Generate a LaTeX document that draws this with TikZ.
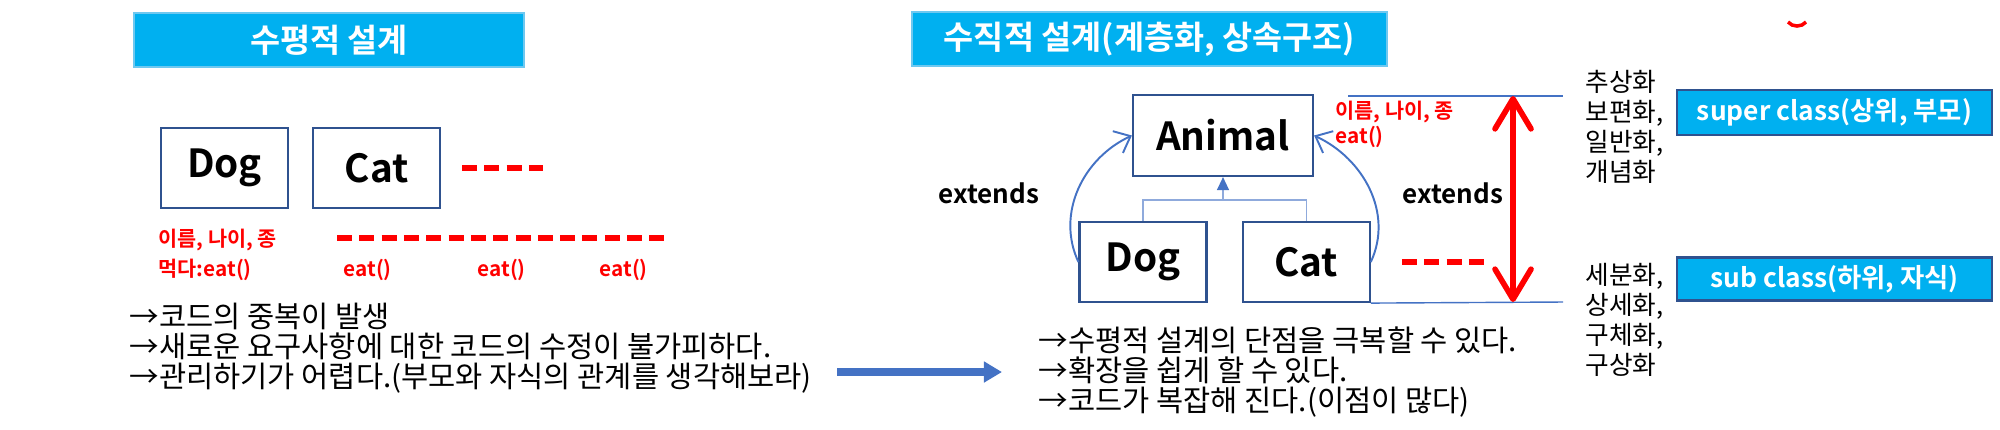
\documentclass[tikz,border=0pt]{standalone}
\usepackage{fontspec}
\setmainfont{Noto Sans CJK KR}[BoldFont={Noto Sans CJK KR Bold}]
\usepackage{tikz}
\usetikzlibrary{positioning,arrows.meta,calc}
\definecolor{titlecyan}{RGB}{0,176,240}
\definecolor{titleedge}{RGB}{110,200,240}
\definecolor{boxblue}{RGB}{47,82,143}
\definecolor{linkblue}{RGB}{68,114,196}
\definecolor{treeblue}{RGB}{143,170,220}
\definecolor{memred}{RGB}{255,0,0}
\tikzset{
  banner/.style={fill=titlecyan, draw=titleedge, line width=0.5pt, text=white, inner sep=0pt, minimum height=0.54cm, font=\bfseries\fontsize{9.3}{11}\selectfont},
  cls/.style={draw=boxblue, line width=0.6pt, fill=white, inner sep=0pt, minimum width=1.27cm, minimum height=0.8cm, font=\bfseries\fontsize{11}{13}\selectfont},
  role/.style={fill=titlecyan, draw=boxblue, line width=0.6pt, text=white, inner sep=0pt, minimum width=3.15cm, font=\bfseries\fontsize{7.5}{9}\selectfont},
  member/.style={text=memred, inner sep=0pt, anchor=west, align=left, font=\bfseries\fontsize{5.9}{8.5}\selectfont},
  remark/.style={inner sep=0pt, anchor=west, align=left, font=\fontsize{8.4}{8.6}\selectfont},
  abstr/.style={inner sep=0pt, anchor=west, align=left, font=\fontsize{7.3}{8.5}\selectfont},
  ext/.style={inner sep=0pt, font=\bfseries\fontsize{7.4}{9}\selectfont},
  etcline/.style={draw=memred, line width=1.7pt, dash pattern=on 0.15cm off 0.073cm},
  extarr/.style={-{Straight Barb[length=0.14cm,width=0.24cm]}, line width=0.55pt, draw=linkblue},
  hier/.style={line width=0.4pt, draw=treeblue},
  guide/.style={line width=0.4pt, draw=linkblue},
}
\begin{document}
\begin{tikzpicture}[x=0.01cm, y=-0.01cm]
  \useasboundingbox (0,0) rectangle (2000,429);
  % horizontal design
  \node[banner, minimum width=3.9cm] (t1) at (329,40) {수평적 설계};
  \node[cls] (dogL) at (224.5,168) {Dog};
  \node[cls, right=0.23cm of dogL] (catL) {Cat};
  \node[member] (memL) at (158,255) {이름, 나이, 종\\먹다:eat()};
  \node[member] (eat1) at (343,270) {eat()};
  \node[member] (eat2) at (477,270) {eat()};
  \node[member] (eat3) at (599,270) {eat()};
  \coordinate (d1a) at (462,168); \coordinate (d1b) at (543,168);
  \coordinate (d2a) at (337,238); \coordinate (d2b) at (665,238);
  \draw[etcline] (d1a) -- (d1b);
  \draw[etcline] (d2a) -- (d2b);
  \node[remark] (txtL) at (129,348) {→코드의 중복이 발생\\→새로운 요구사항에 대한 코드의 수정이 불가피하다.\\→관리하기가 어렵다.(부모와 자식의 관계를 생각해보라)};
  % move over
  \node[remark] (txtR) at (1038,372) {→수평적 설계의 단점을 극복할 수 있다.\\→확장을 쉽게 할 수 있다.\\→코드가 복잡해 진다.(이점이 많다)};
  \coordinate (ba) at (837,372);
  \draw[-{Triangle[length=0.18cm,width=0.2cm]}, line width=2.2pt, draw=linkblue] (ba) -- ([xshift=-0.36cm]txtR.west);
  % vertical design
  \node[banner, minimum width=4.75cm] (t2) at (1149.5,39) {수직적 설계(계층화, 상속구조)};
  \node[cls, minimum width=1.8cm, minimum height=0.81cm] (animal) at (1223,135.5) {Animal};
  \node[cls] (dogR) at (1143,262) {Dog};
  \node[cls, right=0.34cm of dogR] (catR) {Cat};
  \coordinate[below=0.23cm of animal.south] (jn);
  \draw[hier] (dogR.north) |- (jn) -| (catR.north);
  \draw[hier, -{Triangle[length=0.13cm,width=0.12cm,color=linkblue]}] (jn) -- (animal.south);
  \draw[extarr] (dogR.west) to[out=115, in=205] (animal.west);
  \draw[extarr] (catR.east) to[out=65, in=-25] (animal.east);
  \node[ext, anchor=east] (extL) at (1040,193) {extends};
  \node[ext, anchor=west] (extR) at (1402,193) {extends};
  \node[member, font=\bfseries\fontsize{5.9}{7.1}\selectfont] (memR) at (1335,124.5) {이름, 나이, 종\\eat()};
  \coordinate (d3a) at (1402,262); \coordinate (d3b) at (1485,262);
  \draw[etcline] (d3a) -- (d3b);
  \coordinate (gtl) at (1348,96); \coordinate (gtr) at (1563,96); \coordinate (gbr) at (1563,302);
  \draw[guide] (gtl) -- (gtr);
  \draw[guide] (catR.south east) -- (gbr);
  \coordinate (va) at (1513,96); \coordinate (vb) at (1513,302);
  \draw[memred, line width=1.6pt, {Straight Barb[length=0.3cm,width=0.36cm,round]}-{Straight Barb[length=0.3cm,width=0.36cm,round]}] (va) -- (vb);
  % levels
  \node[abstr] (up) at (1585,127) {추상화\\보편화,\\일반화,\\개념화};
  \node[abstr] (down) at (1585,320) {세분화,\\상세화,\\구체화,\\구상화};
  \node[role, minimum height=0.45cm] (super) at (1834.5,112.5) {super class(상위, 부모)};
  \node[role, minimum height=0.43cm] (sub) at (1834.5,279) {sub class(하위, 자식)};
  \coordinate (ma) at (1788,22); \coordinate (mb) at (1806,22);
  \draw[memred, line width=1pt] (ma) to[bend right=50] (mb);
\end{tikzpicture}
\end{document}
